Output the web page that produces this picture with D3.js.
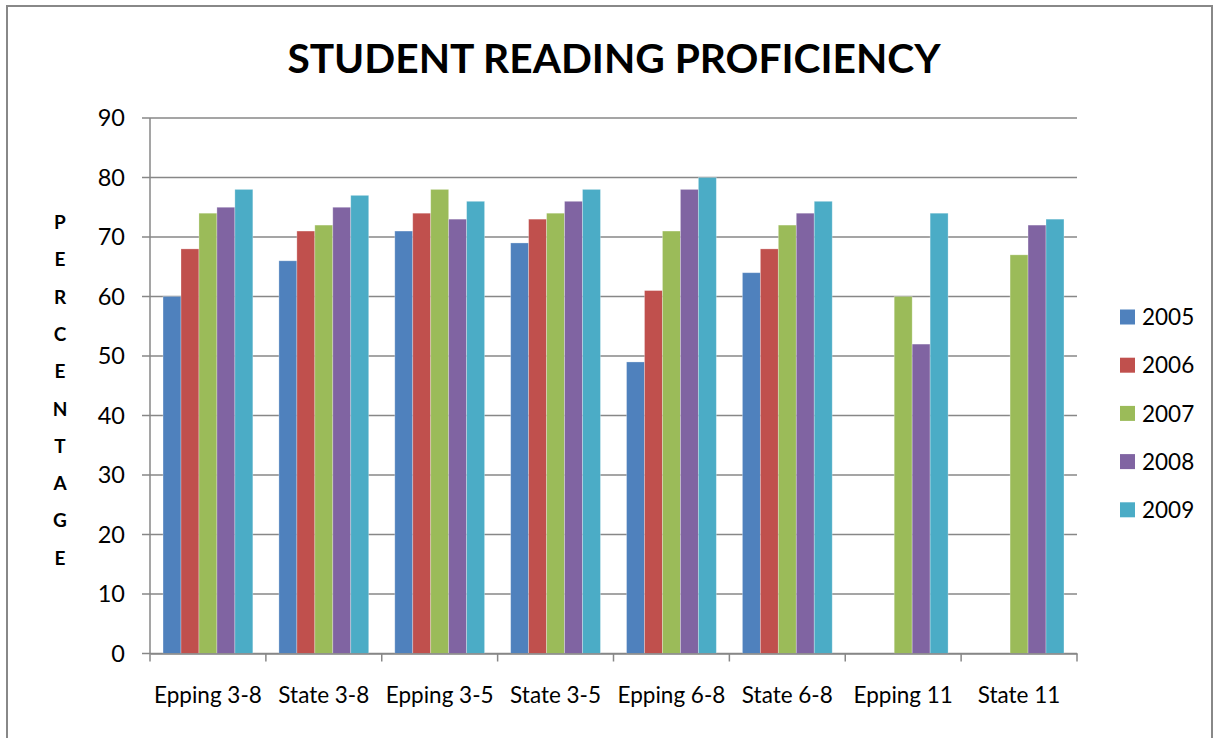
<!DOCTYPE html>
<html>
<head>
<meta charset="utf-8">
<script src="https://cdnjs.cloudflare.com/ajax/libs/d3/7.8.5/d3.min.js"></script>
<style>
  body { margin: 0; background: #fff; }
  text { font-family: Lato, "Open Sans", sans-serif; }
</style>
</head>
<body>
<div id="chart"></div>
<script>
var categories = ['Epping 3-8', 'State 3-8', 'Epping 3-5', 'State 3-5', 'Epping 6-8', 'State 6-8', 'Epping 11', 'State 11'];
var years = ['2005', '2006', '2007', '2008', '2009'];
var v2005 = [60, 66, 71, 69, 49, 64, null, null];
var v2006 = [68, 71, 74, 73, 61, 68, null, null];
var v2007 = [74, 72, 78, 74, 71, 72, 60, 67];
var v2008 = [75, 75, 73, 76, 78, 74, 52, 72];
var v2009 = [78, 77, 76, 78, 80, 76, 74, 73];
var yTicks = [0, 10, 20, 30, 40, 50, 60, 70, 80, 90];
var colors = ['#4F81BD', '#C0504D', '#9BBB59', '#8064A2', '#4BACC6'];

var series = [v2005, v2006, v2007, v2008, v2009];

var W = 1217, H = 738;
var margin = { top: 118, right: 140, bottom: 84, left: 150 },
    width = 1077 - margin.left,
    height = 653.5 - margin.top;

var svg = d3.select('#chart').append('svg')
    .attr('width', W)
    .attr('height', H);

// outer frame
svg.append('rect')
    .attr('x', 7).attr('y', 6)
    .attr('width', 1205).attr('height', 760)
    .attr('fill', 'none')
    .attr('stroke', '#888')
    .attr('stroke-width', 2);

svg.append('text')
    .attr('x', 614).attr('y', 73)
    .attr('text-anchor', 'middle')
    .attr('font-size', 40.7)
    .attr('font-weight', 'bold')
    .text('STUDENT READING PROFICIENCY');

var g = svg.append('g')
    .attr('transform', 'translate(' + margin.left + ',' + margin.top + ')');

var x = d3.scaleBand()
    .domain(categories)
    .range([0, width])
    .paddingInner(0.225)
    .paddingOuter(0.1125);

var xs = d3.scaleBand()
    .domain(years)
    .range([0, x.bandwidth()]);

var y = d3.scaleLinear()
    .domain([0, 90])
    .range([height, 0]);

// gridlines + y axis ticks
g.append('g')
    .selectAll('line')
    .data(yTicks)
    .enter()
    .append('line')
        .attr('x1', -8).attr('x2', width)
        .attr('y1', function(d) { return y(d); })
        .attr('y2', function(d) { return y(d); })
        .attr('stroke', '#878787')
        .attr('stroke-width', 1.5);

g.append('g')
    .selectAll('text')
    .data(yTicks)
    .enter()
    .append('text')
        .attr('x', -25)
        .attr('y', function(d) { return y(d); })
        .attr('dy', '0.36em')
        .attr('text-anchor', 'end')
        .attr('font-size', 23.5)
        .text(function(d) { return d; });

// bars
years.forEach(function(yr, i) {
    g.append('g')
        .selectAll('rect')
        .data(series[i].map(function(v, j) { return { cat: categories[j], v: v }; })
            .filter(function(d) { return d.v != null; }))
        .enter()
        .append('rect')
            .attr('x', function(d) { return x(d.cat) + xs(yr); })
            .attr('y', function(d) { return y(d.v); })
            .attr('width', xs.bandwidth())
            .attr('height', function(d) { return height - y(d.v); })
            .attr('fill', colors[i])
            .attr('stroke', 'rgba(255,255,255,0.35)')
            .attr('stroke-width', 0.8);
});

// axes lines
g.append('line')
    .attr('x1', 0).attr('x2', 0)
    .attr('y1', 0).attr('y2', height)
    .attr('stroke', '#878787').attr('stroke-width', 1.5);

var xAxis = g.append('g')
    .attr('transform', 'translate(0,' + height + ')')
    .call(d3.axisBottom(x).tickSize(0).tickPadding(0));
xAxis.select('.domain').attr('stroke', '#878787').attr('stroke-width', 1.5);
xAxis.selectAll('text')
    .attr('font-size', 22.5)
    .attr('fill', '#000')
    .attr('font-family', 'Lato, "Open Sans", sans-serif')
    .attr('dy', 0)
    .attr('y', 49);

// category boundary ticks
g.append('g')
    .selectAll('line')
    .data(d3.range(categories.length + 1))
    .enter()
    .append('line')
        .attr('x1', function(i) { return i * x.step(); })
        .attr('x2', function(i) { return i * x.step(); })
        .attr('y1', height).attr('y2', height + 8)
        .attr('stroke', '#878787').attr('stroke-width', 1.5);

// vertical axis title
var title = 'PERCENTAGE'.split('');
svg.append('g')
    .selectAll('text')
    .data(title)
    .enter()
    .append('text')
        .attr('x', 60)
        .attr('y', function(d, i) { return 229 + i * 37.3; })
        .attr('text-anchor', 'middle')
        .attr('font-size', 19)
        .attr('font-weight', 'bold')
        .text(function(d) { return d; });

// legend
var legend = svg.append('g')
    .attr('transform', 'translate(1120,317)');
years.forEach(function(yr, i) {
    var row = legend.append('g').attr('transform', 'translate(0,' + (i * 48.2) + ')');
    row.append('rect')
        .attr('x', 0).attr('y', -7.5)
        .attr('width', 15).attr('height', 15)
        .attr('fill', colors[i]);
    row.append('text')
        .attr('x', 22).attr('y', 0)
        .attr('dy', '0.36em')
        .attr('font-size', 22.5)
        .text(yr);
});
</script>
</body>
</html>
